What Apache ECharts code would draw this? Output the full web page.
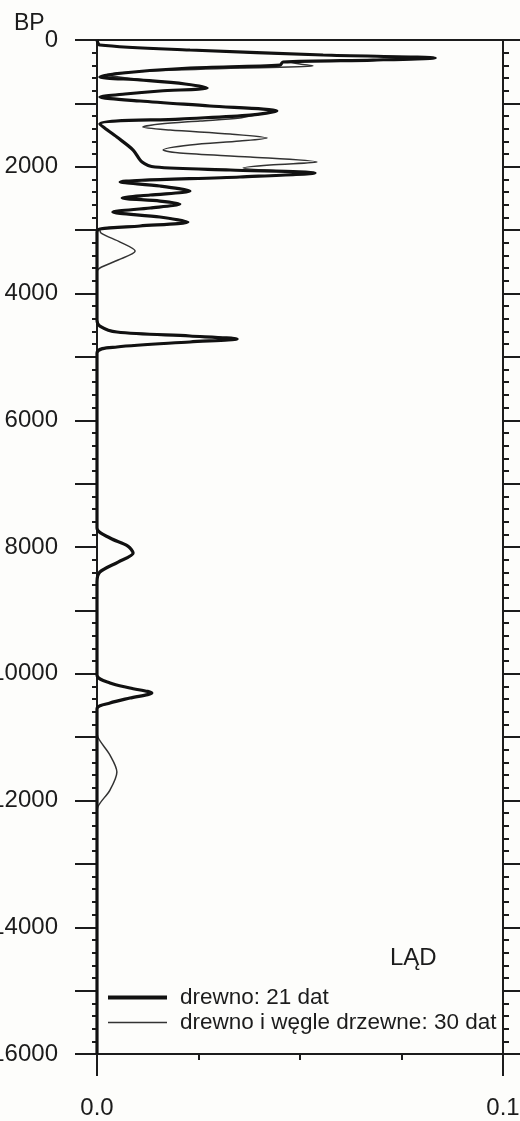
<!DOCTYPE html>
<html>
<head>
<meta charset="utf-8">
<script src="https://cdn.jsdelivr.net/npm/echarts@6/dist/echarts.min.js"></script>
<style>
html,body{margin:0;padding:0;background:#fdfdfb;}
#chart{width:520px;height:1121px;}
</style>
</head>
<body>
<div id="chart"></div>
<script>
// Age axis ticks (BP) and x axis
const ageTicks = [0, 2000, 4000, 6000, 8000, 10000, 12000, 14000, 16000];
const xTicks = [0.0, 0.1];

// Series 1: drewno (wood), 21 dates — ages (BP) and probability values
const drewnoAge = [0,79,158,237,284,316,347,395,442,521,584,631,694,757,805,852,899,963,1041,1120,1184,1247,1326,1531,1736,1925,2004,2051,2099,2162,2241,2304,2383,2446,2493,2541,2588,2651,2714,2793,2872,2935,2982,3030,4418,4513,4608,4671,4718,4765,4844,4939,7701,7858,7985,8095,8237,8395,8553,10020,10146,10225,10304,10383,10462,10557,16000];
const drewnoVal = [0,0.0007,0.0229,0.0557,0.0833,0.0680,0.0458,0.0451,0.0229,0.0064,0.0007,0.0106,0.0217,0.0271,0.0155,0.0069,0.0007,0.0106,0.0278,0.0443,0.0377,0.0204,0.0007,0.0049,0.0089,0.0111,0.0143,0.0328,0.0537,0.0352,0.0057,0.0155,0.0229,0.0131,0.0062,0.0155,0.0204,0.0131,0.0039,0.0155,0.0224,0.0106,0.0007,0,0,0.0007,0.0049,0.0229,0.0345,0.0229,0.0049,0,0,0.0032,0.0076,0.0089,0.0052,0.0007,0,0,0.0032,0.0081,0.0135,0.0081,0.0032,0,0];

// Series 2: drewno i węgle drzewne (wood and charcoal), 30 dates
const wegleAge = [0,79,158,237,284,316,347,379,410,442,489,552,600,631,694,757,805,852,899,963,1041,1120,1184,1231,1278,1326,1373,1420,1483,1546,1594,1657,1736,1783,1846,1925,1973,2020,2067,2099,2162,2241,2304,2383,2446,2493,2541,2588,2651,2714,2793,2872,2935,2982,3046,3188,3330,3472,3598,3661,4418,4513,4608,4671,4718,4765,4844,4939,7701,7858,7985,8095,8237,8395,8553,10020,10146,10225,10304,10383,10462,10557,10888,10999,11283,11551,11835,12103,12230,16000];
const wegleVal = [0,0.0007,0.0229,0.0557,0.0833,0.0680,0.0475,0.0500,0.0532,0.0352,0.0131,0.0020,0.0074,0.0118,0.0217,0.0273,0.0155,0.0069,0.0015,0.0106,0.0278,0.0443,0.0389,0.0352,0.0254,0.0155,0.0113,0.0180,0.0328,0.0419,0.0352,0.0229,0.0163,0.0204,0.0377,0.0542,0.0426,0.0360,0.0451,0.0537,0.0352,0.0057,0.0155,0.0229,0.0131,0.0062,0.0155,0.0204,0.0131,0.0039,0.0155,0.0224,0.0106,0.0007,0.0010,0.0057,0.0094,0.0052,0.0007,0,0,0.0007,0.0049,0.0229,0.0345,0.0229,0.0049,0,0,0.0032,0.0076,0.0089,0.0052,0.0007,0,0,0.0032,0.0081,0.0135,0.0081,0.0032,0,0,0.0002,0.0032,0.0049,0.0032,0.0002,0,0];

const seriesNames = ['drewno: 21 dat', 'drewno i węgle drzewne: 30 dat'];

const zip = (a, v) => a.map((age, i) => [v[i], age]);
const FONT = "'Liberation Sans', Arial, sans-serif";
const INK = '#1c1c1c';

const chart = echarts.init(document.getElementById('chart'), null, {renderer: 'canvas'});

const yCommon = {
  type: 'value', inverse: true, min: 0, max: 16000, interval: 1000,
  axisLine: {show: true, onZero: false, lineStyle: {color: INK, width: 2}},
  splitLine: {show: false},
  minorTick: {show: true, splitNumber: 5, length: 5, lineStyle: {color: INK, width: 2}},
  axisTick: {show: true, length: 22, lineStyle: {color: INK, width: 2}}
};

chart.setOption({
  animation: false,
  backgroundColor: '#fdfdfb',
  textStyle: {fontFamily: FONT},
  grid: {left: 97, top: 40, right: 17, bottom: 67, containLabel: false, outerBoundsMode: 'none'},
  title: [
    {text: 'BP', left: 9, top: 7, textStyle: {fontFamily: FONT, fontSize: 23, fontWeight: 'normal', color: INK}},
    {text: 'LĄD', left: 385, top: 941, textStyle: {fontFamily: FONT, fontSize: 24, fontWeight: 'normal', color: INK}}
  ],
  legend: [
    {data: [seriesNames[0]], left: 108, top: 986, padding: 0, icon: 'rect', itemWidth: 59, itemHeight: 4,
     textStyle: {fontFamily: FONT, fontSize: 22.5, color: INK, padding: [0, 0, 0, 8]}},
    {data: [seriesNames[1]], left: 108, top: 1011, padding: 0, icon: 'rect', itemWidth: 59, itemHeight: 1.5,
     textStyle: {fontFamily: FONT, fontSize: 22.5, color: INK, padding: [0, 0, 0, 8]}}
  ],
  xAxis: [
    {type: 'value', position: 'bottom', min: 0, max: 0.1, interval: 0.1,
     axisLine: {show: true, onZero: false, lineStyle: {color: INK, width: 2}},
     axisTick: {show: true, length: 22, lineStyle: {color: INK, width: 2}},
     minorTick: {show: true, splitNumber: 4, length: 6, lineStyle: {color: INK, width: 2}},
     splitLine: {show: false},
     axisLabel: {margin: 42, fontSize: 24, color: INK, fontFamily: FONT,
       formatter: v => xTicks.some(t => Math.abs(t - v) < 1e-9) ? v.toFixed(1) : ''}},
    {type: 'value', position: 'top', min: 0, max: 0.1,
     axisLine: {show: true, onZero: false, lineStyle: {color: INK, width: 2}},
     axisTick: {show: false}, axisLabel: {show: false}, splitLine: {show: false}}
  ],
  yAxis: [
    Object.assign({}, yCommon, {position: 'left',
      axisLabel: {margin: 39, fontSize: 24, color: INK, fontFamily: FONT,
        formatter: v => ageTicks.includes(v) ? String(v) : ''}}),
    Object.assign({}, yCommon, {position: 'right', axisLabel: {show: false},
      minorTick: {show: true, splitNumber: 5, length: 6, lineStyle: {color: INK, width: 2}},
      axisTick: {show: true, length: 18, lineStyle: {color: INK, width: 2}}})
  ],
  series: [
    {name: seriesNames[1], type: 'line', xAxisIndex: 0, yAxisIndex: 0, data: zip(wegleAge, wegleVal),
     showSymbol: false, smooth: 0.3, z: 2,
     lineStyle: {color: '#333', width: 1.5}, itemStyle: {color: '#333'}},
    {name: seriesNames[0], type: 'line', xAxisIndex: 0, yAxisIndex: 0, data: zip(drewnoAge, drewnoVal),
     showSymbol: false, smooth: 0.3, z: 3,
     lineStyle: {color: '#111', width: 3.2}, itemStyle: {color: '#111'}}
  ]
});
</script>
</body>
</html>
